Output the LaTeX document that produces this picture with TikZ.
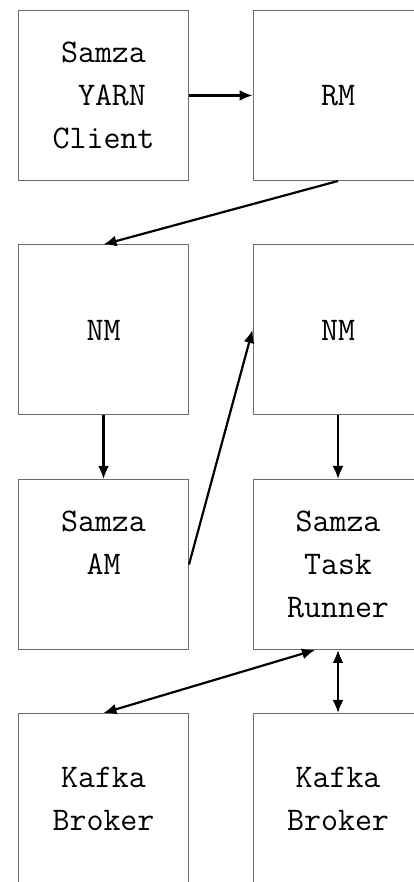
\documentclass[tikz,border=0pt]{standalone}
\usepackage{fontspec}
\usetikzlibrary{arrows.meta,calc,positioning}
\tikzstyle{blk}=[draw=gray!85!black,line width=1pt,minimum size=170pt,inner sep=0pt,align=center,font=\fontsize{33}{43}\selectfont\ttfamily]
\tikzstyle{link}=[line width=2.2pt]

\begin{document}
\begin{tikzpicture}[
      x=1pt,y=1pt,
      >={Latex[length=13pt,width=11pt]},
      auto
    ]
      \useasboundingbox (0,0) rectangle (413,882);

      \node [blk] (cl)  at (103.5,786.5) {Samza\\~YARN\\Client};
      \node [blk] (rm)  [node distance=234.5pt,right of=cl] {RM};
      \node [blk] (nm1) [node distance=234.5pt,below of=cl] {NM};
      \node [blk] (nm2) [node distance=234.5pt,below of=rm] {NM};
      \node [blk] (am)  [node distance=234.5pt,below of=nm1] {Samza\\AM\\~};
      \node [blk] (tr)  [node distance=234.5pt,below of=nm2] {Samza\\Task\\Runner};
      \node [blk] (kb1) [node distance=234pt,below of=am] {Kafka\\Broker};
      \node [blk] (kb2) [node distance=234pt,below of=tr] {Kafka\\Broker};

      \draw[link,->] (cl) -- (rm);
      \draw[link,->] (rm.south) -- (nm1.north);
      \draw[link,->] (nm1) -- (am);
      \draw[link,->] (am.east) -- (nm2.west);
      \draw[link,->] (nm2) -- (tr);
      \draw[link,<->] ($(tr.south)+(-23,0)$) -- (kb1.north);
      \draw[link,<->] (tr) -- (kb2);
\end{tikzpicture}
\end{document}
